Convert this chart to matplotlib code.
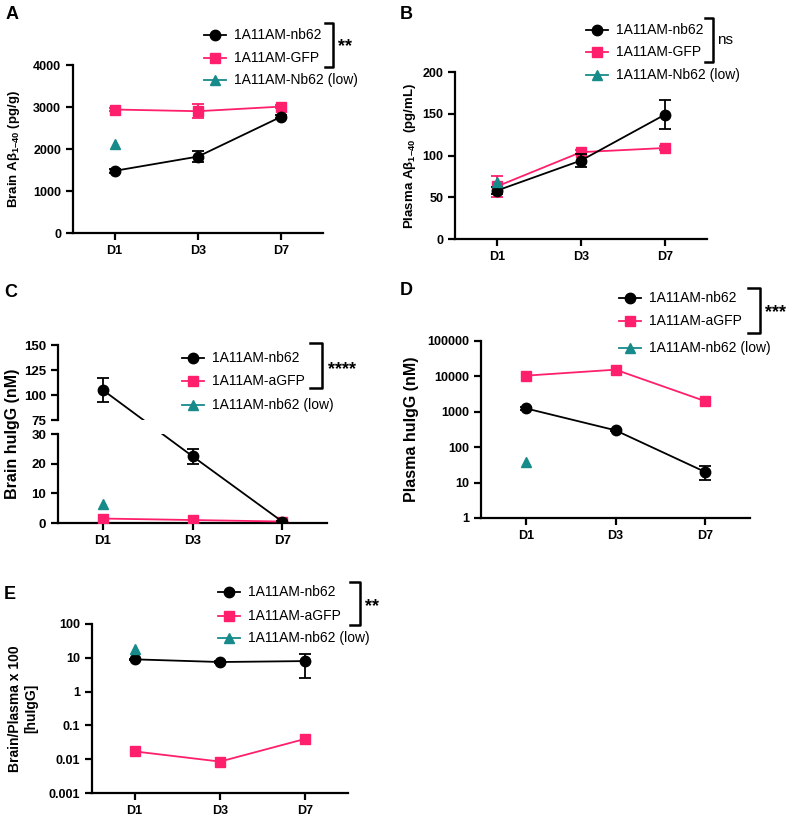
import numpy as np
import matplotlib
matplotlib.use("Agg")
import matplotlib.pyplot as plt
from matplotlib.lines import Line2D

plt.rcParams["font.family"] = ["Liberation Sans", "DejaVu Sans"]
plt.rcParams["mathtext.fontset"] = "custom"
plt.rcParams["mathtext.rm"] = "Liberation Sans"
plt.rcParams["mathtext.bf"] = "Liberation Sans:bold"

W, H = 796, 816

BLACK = "#000000"
PINK = "#ff1f6c"
TEAL = "#178a8a"

days = ["D1", "D3", "D7"]
xpos = [1, 2, 3]

# A: brain Abeta 1-40 (pg/g)
a_nb62 = [1480, 1820, 2770]
a_nb62_err = [40, 130, 40]
a_gfp = [2940, 2900, 3010]
a_gfp_err = [40, 170, 40]
a_low = [2120]

# B: plasma Abeta 1-40 (pg/mL)
b_nb62 = [58, 94, 149]
b_nb62_err = [4, 8, 17]
b_gfp = [63, 104, 109]
b_gfp_err = [13, 2, 2]
b_low = [68]

# C: brain huIgG (nM), broken axis
c_nb62 = [105, 22.5, 0.5]
c_nb62_err = [12, 2.5, 0.3]
c_gfp = [1.5, 1.0, 0.5]
c_low = [6.5]

# D: plasma huIgG (nM), log
d_nb62 = [1250, 300, 20]
d_nb62_lo = [100, 20, 8]
d_nb62_hi = [100, 20, 10]
d_gfp = [10500, 15500, 2000]
d_low = [37]

# E: brain/plasma ratio x 100, log
e_nb62 = [9.0, 7.5, 8.0]
e_nb62_lo = [0.5, 0.3, 5.5]
e_nb62_hi = [0.5, 0.3, 5.0]
e_gfp = [0.017, 0.0085, 0.04]
e_low = [18]


def fx(px):
    return px / W


def fy(py):
    return 1 - py / H


def make_ax(fig, left, top, right, bottom, tick_size=9):
    ax = fig.add_axes([fx(left), fy(bottom), fx(right - left), (bottom - top) / H])
    ax.spines[["top", "right"]].set_visible(False)
    ax.spines[["left", "bottom"]].set_linewidth(1.6)
    ax.tick_params(width=1.6, length=5, labelsize=tick_size)
    ax.set_xlim(0.5, 3.5)
    ax.set_xticks(xpos)
    ax.set_xticklabels(days)
    return ax


def bold_ticks(ax):
    for lab in ax.get_xticklabels() + ax.get_yticklabels():
        lab.set_fontweight("bold")


def draw_series(ax, nb62, gfp, low, nb62_err=None, gfp_err=None):
    ax.errorbar(xpos, nb62, yerr=nb62_err, color=BLACK, marker="o", ms=7.5,
                lw=1.3, capsize=4, elinewidth=1.3, capthick=1.3, zorder=4)
    ax.errorbar(xpos, gfp, yerr=gfp_err, color=PINK, marker="s", ms=7,
                lw=1.3, capsize=4, elinewidth=1.3, capthick=1.3, zorder=3)
    ax.plot(xpos[:1], low, color=TEAL, marker="^", ms=7.5, ls="none", zorder=5)


def legend_block(fig, names, x_mark, y_rows, bracket_x, bracket_y, sig, sig_xy):
    styles = [(BLACK, "o"), (PINK, "s"), (TEAL, "^")]
    for (col, mk), name, yr in zip(styles, names, y_rows):
        fig.add_artist(Line2D([fx(x_mark - 11), fx(x_mark + 11)], [fy(yr), fy(yr)],
                              color=col, lw=1.3))
        fig.add_artist(Line2D([fx(x_mark)], [fy(yr)], color=col, marker=mk, ms=7.5))
        fig.text(fx(x_mark + 19), fy(yr), name, fontsize=10, va="center", ha="left")
    x0, x1 = bracket_x
    y0, y1 = bracket_y
    fig.add_artist(Line2D([fx(x0), fx(x1), fx(x1), fx(x0)],
                          [fy(y0), fy(y0), fy(y1), fy(y1)], color="black", lw=1.8))
    fig.text(fx(sig_xy[0]), fy(sig_xy[1]), sig, fontsize=11 if sig == "ns" else 13,
             fontweight="normal" if sig == "ns" else "bold", va="center", ha="left")


fig = plt.figure(figsize=(W / 100, H / 100), dpi=100)

# Panel A
axA = make_ax(fig, 73, 65, 323, 233)
draw_series(axA, a_nb62, a_gfp, a_low, a_nb62_err, a_gfp_err)
axA.set_ylim(0, 4000)
axA.set_yticks([0, 1000, 2000, 3000, 4000])
axA.set_ylabel("Brain Aβ$_{\\mathbf{1\u201340}}$ (pg/g)", fontsize=9.5, fontweight="bold")
axA.yaxis.set_label_coords(-0.205, 0.5)
bold_ticks(axA)
legend_block(fig, ["1A11AM-nb62", "1A11AM-GFP", "1A11AM-Nb62 (low)"],
             215, [35, 58, 80], (325, 333), (23, 67), "**", (338, 47))
fig.text(fx(6), fy(6), "A", fontsize=13, fontweight="bold", va="top")

# Panel B
axB = make_ax(fig, 455, 72, 707, 239)
draw_series(axB, b_nb62, b_gfp, b_low, b_nb62_err, b_gfp_err)
axB.set_ylim(0, 200)
axB.set_yticks([0, 50, 100, 150, 200])
axB.set_ylabel("Plasma Aβ$_{\\mathbf{1\u201340}}$  (pg/mL)", fontsize=9.5, fontweight="bold")
axB.yaxis.set_label_coords(-0.145, 0.5)
bold_ticks(axB)
legend_block(fig, ["1A11AM-nb62", "1A11AM-GFP", "1A11AM-Nb62 (low)"],
             597, [30, 52, 75], (705, 713), (18, 62), "ns", (717, 40))
fig.text(fx(400), fy(6), "B", fontsize=13, fontweight="bold", va="top")

# Panel C: broken axis through a piecewise scale
LOW_TOP, HIGH_BOT = 30, 75
PX_LOW, PX_GAP, PX_HIGH = 89.0, 14.0, 75.0


def c_fwd(y):
    y = np.asarray(y, dtype=float)
    return np.where(y <= LOW_TOP, y * PX_LOW / LOW_TOP,
                    np.where(y <= HIGH_BOT,
                             PX_LOW + (y - LOW_TOP) * PX_GAP / (HIGH_BOT - LOW_TOP),
                             PX_LOW + PX_GAP + (y - HIGH_BOT) * PX_HIGH / 75.0))


def c_inv(v):
    v = np.asarray(v, dtype=float)
    return np.where(v <= PX_LOW, v * LOW_TOP / PX_LOW,
                    np.where(v <= PX_LOW + PX_GAP,
                             LOW_TOP + (v - PX_LOW) * (HIGH_BOT - LOW_TOP) / PX_GAP,
                             HIGH_BOT + (v - PX_LOW - PX_GAP) * 75.0 / PX_HIGH))


axC = make_ax(fig, 58, 345, 327, 523, tick_size=9.5)
axC.set_yscale("function", functions=(c_fwd, c_inv))
axC.set_ylim(0, 150)
draw_series(axC, c_nb62, c_gfp, c_low, c_nb62_err, None)
axC.axhspan(LOW_TOP + 1.5, HIGH_BOT - 1.5, color="white", zorder=6, clip_on=False, lw=0)
axC.spines["left"].set_visible(False)
ytr = axC.get_yaxis_transform()
axC.plot([0, 0], [0, LOW_TOP], color="black", lw=1.6, transform=ytr, clip_on=False, zorder=7)
axC.plot([0, 0], [HIGH_BOT, 150], color="black", lw=1.6, transform=ytr, clip_on=False, zorder=7)
axC.set_yticks([0, 10, 20, 30, 75, 100, 125, 150])
axC.set_yticklabels(["0", "10", "20", "30", "75", "100", "125", "150"])
axC.set_ylabel("Brain huIgG (nM)", fontsize=11.5, fontweight="bold")
axC.yaxis.set_label_coords(-0.14, 0.5)
bold_ticks(axC)
legend_block(fig, ["1A11AM-nb62", "1A11AM-aGFP", "1A11AM-nb62 (low)"],
             193, [358, 381, 405], (310, 322), (343, 388), "****", (328, 370))
fig.text(fx(4), fy(284), "C", fontsize=13, fontweight="bold", va="top")

# Panel D
axD = make_ax(fig, 481, 341, 750, 518)
axD.set_yscale("log")
draw_series(axD, d_nb62, d_gfp, d_low, [d_nb62_lo, d_nb62_hi], None)
axD.set_ylim(1, 100000)
axD.set_yticks([1, 10, 100, 1000, 10000, 100000])
axD.set_yticklabels(["1", "10", "100", "1000", "10000", "100000"])
axD.minorticks_off()
axD.set_ylabel("Plasma huIgG (nM)", fontsize=11.5, fontweight="bold")
axD.yaxis.set_label_coords(-0.23, 0.5)
bold_ticks(axD)
legend_block(fig, ["1A11AM-nb62", "1A11AM-aGFP", "1A11AM-nb62 (low)"],
             630, [298, 321, 348], (748, 760), (288, 333), "***", (765, 313))
fig.text(fx(400), fy(282), "D", fontsize=13, fontweight="bold", va="top")

# Panel E
axE = make_ax(fig, 92, 624, 348, 793)
axE.set_yscale("log")
draw_series(axE, e_nb62, e_gfp, e_low, [e_nb62_lo, e_nb62_hi], None)
axE.set_ylim(0.001, 100)
axE.set_yticks([0.001, 0.01, 0.1, 1, 10, 100])
axE.set_yticklabels(["0.001", "0.01", "0.1", "1", "10", "100"])
axE.minorticks_off()
axE.set_ylabel("Brain/Plasma x 100\n[huIgG]", fontsize=10, fontweight="bold")
axE.yaxis.set_label_coords(-0.21, 0.5)
bold_ticks(axE)
legend_block(fig, ["1A11AM-nb62", "1A11AM-aGFP", "1A11AM-nb62 (low)"],
             229, [592, 616, 638], (350, 360), (582, 625), "**", (365, 607))
fig.text(fx(4), fy(586), "E", fontsize=13, fontweight="bold", va="top")

fig.savefig("out.png", dpi=100)
